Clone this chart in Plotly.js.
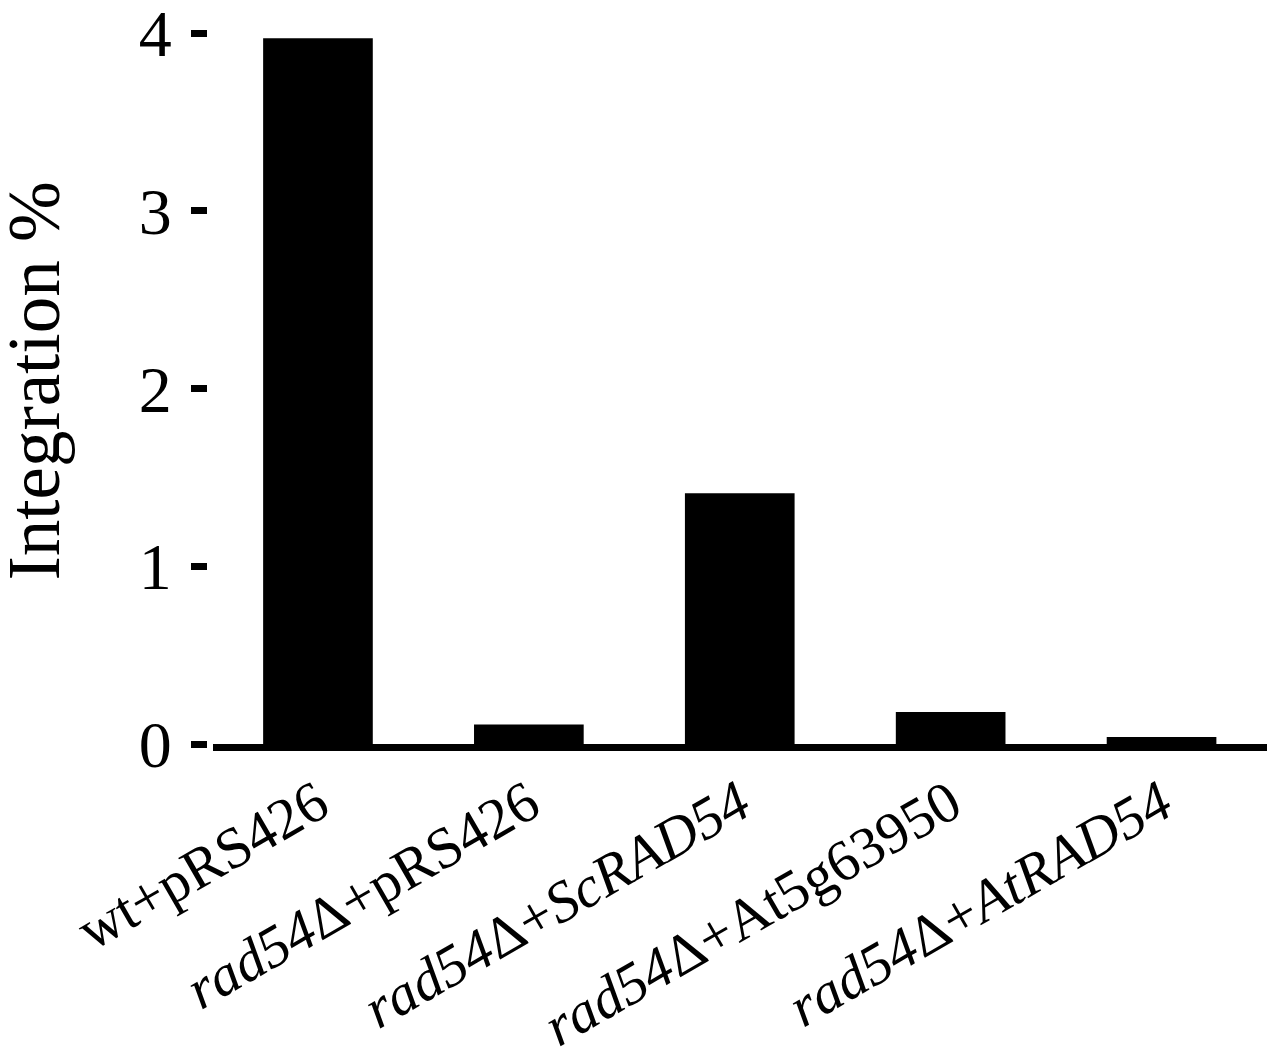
<!DOCTYPE html>
<html>
<head>
<meta charset="utf-8">
<script src="https://cdn.plot.ly/plotly-3.0.1.min.js"></script>
<style>
  html, body { margin: 0; padding: 0; background: #fff; }
  #chart { width: 1280px; height: 1057px; }
</style>
</head>
<body>
<div id="chart"></div>
<script>
// strains, in plot order
var strains = ["wt+pRS426", "rad54+pRS426", "rad54+ScRAD54", "rad54+At5g63950", "rad54+AtRAD54"];
var strainLabels = [
    "wt+pRS426",
    "<i>rad54</i>Δ+pRS426",
    "<i>rad54</i>Δ+<i>ScRAD54</i>",
    "<i>rad54</i>Δ+At5g63950",
    "<i>rad54</i>Δ+<i>AtRAD54</i>"
];
var integration = [3.97, 0.11, 1.41, 0.18, 0.04];

var yTicks = [0, 1, 2, 3, 4];

var serif = "Liberation Serif, Times New Roman, serif";

var data = [{
    x: strains,
    y: integration,
    type: "bar",
    width: 0.52,
    marker: {color: "#000"},
    hoverinfo: "x+y"
}];

var layout = {
    width: 1280,
    height: 1057,
    margin: {l: 207, r: 13, t: 33, b: 313},
    paper_bgcolor: "#fff",
    plot_bgcolor: "#fff",
    showlegend: false,
    font: {family: serif, color: "#000"},
    xaxis: {
        domain: [0.0052, 1],
        tickvals: strains,
        ticktext: strainLabels,
        tickangle: -30,
        ticklabelstandoff: -4,
        tickfont: {size: 58, family: serif, color: "#000"},
        showline: true,
        linecolor: "#000",
        linewidth: 7,
        ticks: "",
        showgrid: false,
        zeroline: false
    },
    // ticks + labels, set slightly apart from the axis line
    yaxis: {
        range: [0, 4],
        anchor: "free",
        position: 0,
        tickvals: yTicks,
        ticks: "outside",
        ticklen: 16,
        tickwidth: 7,
        tickcolor: "#000",
        ticklabelstandoff: 6,
        ticklabeloverflow: "allow",
        tickfont: {size: 66, family: serif, color: "#000"},
        showline: false,
        showgrid: false,
        zeroline: false
    },
    // the vertical axis line itself
    yaxis2: {
        range: [0, 4],
        overlaying: "y",
        anchor: "x",
        side: "left",
        showline: true,
        linecolor: "#000",
        linewidth: 7,
        ticks: "",
        showticklabels: false,
        showgrid: false,
        zeroline: false
    },
    annotations: [{
        text: "Integration %",
        xref: "paper",
        yref: "paper",
        x: -0.163,
        y: 0.51,
        xanchor: "center",
        yanchor: "middle",
        textangle: -90,
        showarrow: false,
        font: {size: 73, family: serif, color: "#000"}
    }]
};

Plotly.newPlot("chart", data, layout, {displayModeBar: false, staticPlot: true});
</script>
</body>
</html>
